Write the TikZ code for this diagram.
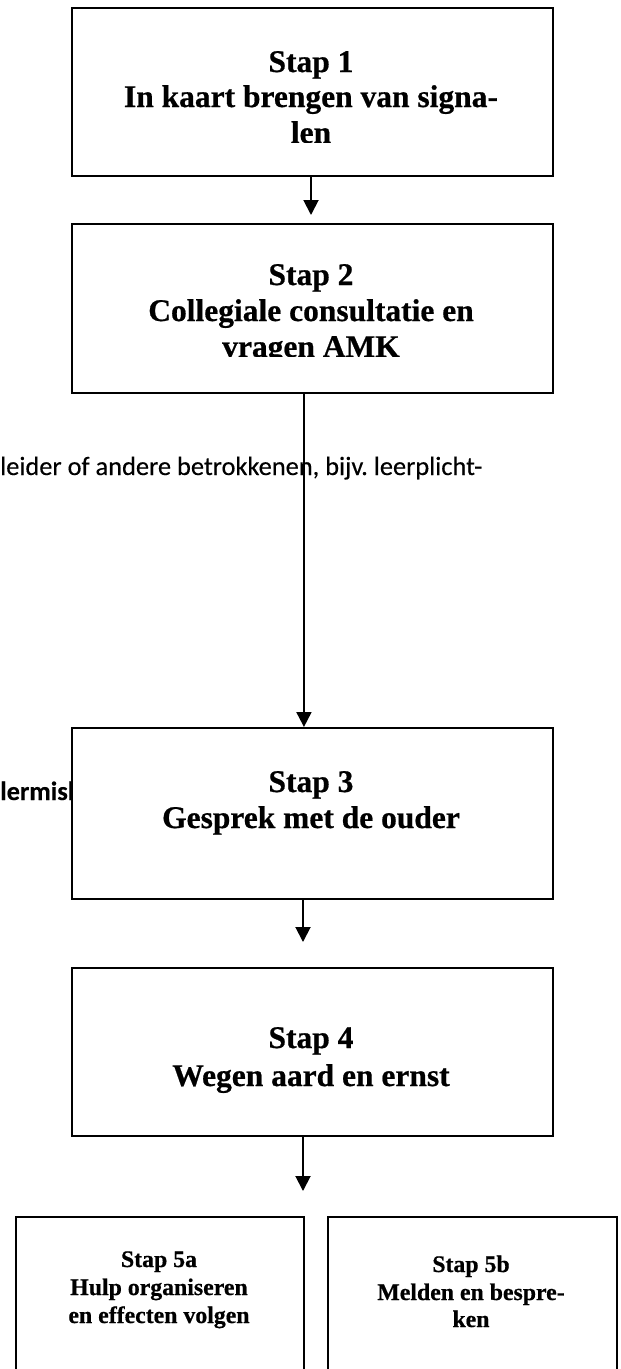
\documentclass[tikz,border=0pt]{standalone}
\usepackage{fontspec}
\setmainfont{Liberation Serif}
\newfontfamily\boxfont[UprightFont={* Bold}, FakeBold=0.6]{Liberation Serif}
\newfontfamily\sidefont[FakeBold=0.3]{Carlito}
\usetikzlibrary{arrows.meta}
\frenchspacing
\begin{document}
\begin{tikzpicture}[x=1pt,y=-1pt,
  stepbox/.style={draw=black, line width=1.9pt, fill=white, inner sep=0pt, anchor=north west},
  bigtxt/.style={font=\boxfont\fontsize{31.5}{35}\selectfont, inner sep=0pt, anchor=base},
  smalltxt/.style={font=\boxfont\fontsize{23.8}{28}\selectfont, inner sep=0pt, anchor=base},
  sidetxt/.style={font=\sidefont\fontsize{26.4}{30}\selectfont, inner sep=0pt, anchor=base west},
  arr/.style={line width=1.9pt, -{Triangle[width=15pt,length=15pt]}}]
\useasboundingbox (0,0) rectangle (621,1369);
\fill[white] (0,0) rectangle (621,1369);
\clip (0,0) rectangle (621,1369);
% side texts (behind boxes)
\node[sidetxt] (s1) at (0,475) {leider of andere betrokkenen, bijv. leerplicht-};
\node[sidetxt, font=\sidefont\bfseries\fontsize{26.4}{30}\selectfont] (s2) at (0,800) {lermish};
% boxes
\node[stepbox, minimum width=481pt, minimum height=168pt] (b1) at (71,7) {};
\node[stepbox, minimum width=481pt, minimum height=169pt] (b2) at (71,223) {};
\node[stepbox, minimum width=481pt, minimum height=171pt] (b3) at (71,727) {};
\node[stepbox, minimum width=481pt, minimum height=168pt] (b4) at (71,967) {};
\node[stepbox, minimum width=288pt, minimum height=180pt] (b5a) at (15,1216) {};
\node[stepbox, minimum width=289pt, minimum height=180pt] (b5b) at (327,1216) {};
% box texts
\begin{scope}
\clip (71,7) rectangle (552,142);
\node[bigtxt] (t1a) at (311,72) {Stap 1};
\node[bigtxt] (t1b) at (311,107) {In kaart brengen van signa-};
\node[bigtxt] (t1c) at (311,143) {len};
\end{scope}
\begin{scope}
\clip (71,223) rectangle (552,356);
\node[bigtxt] (t2a) at (311,285) {Stap 2};
\node[bigtxt] (t2b) at (311,321) {Collegiale consultatie en};
\node[bigtxt] (t2c) at (311,357) {vragen AMK};
\end{scope}
\node[bigtxt] (t3a) at (311,792) {Stap 3};
\node[bigtxt] (t3b) at (311,828) {Gesprek met de ouder};
\node[bigtxt] (t4a) at (311,1048) {Stap 4};
\node[bigtxt] (t4b) at (311,1086) {Wegen aard en ernst};
\node[smalltxt] (t5a1) at (159,1267) {Stap 5a};
\node[smalltxt] (t5a2) at (159,1295) {Hulp organiseren};
\node[smalltxt] (t5a3) at (159,1323) {en effecten volgen};
\node[smalltxt] (t5b1) at (471,1272) {Stap 5b};
\node[smalltxt] (t5b2) at (471,1300) {Melden en bespre-};
\node[smalltxt] (t5b3) at (471,1327) {ken};
% connectors
\coordinate (e1) at (311,215);
\coordinate (e3) at (303,942);
\coordinate (e4) at (303,1191);
\draw[arr] (b1.south -| e1) -- (e1);
\draw[arr] ([xshift=-8.5pt]b2.south) -- ([xshift=-8.5pt]b3.north);
\draw[arr] (b3.south -| e3) -- (e3);
\draw[arr] (b4.south -| e4) -- (e4);
\end{tikzpicture}
\end{document}
